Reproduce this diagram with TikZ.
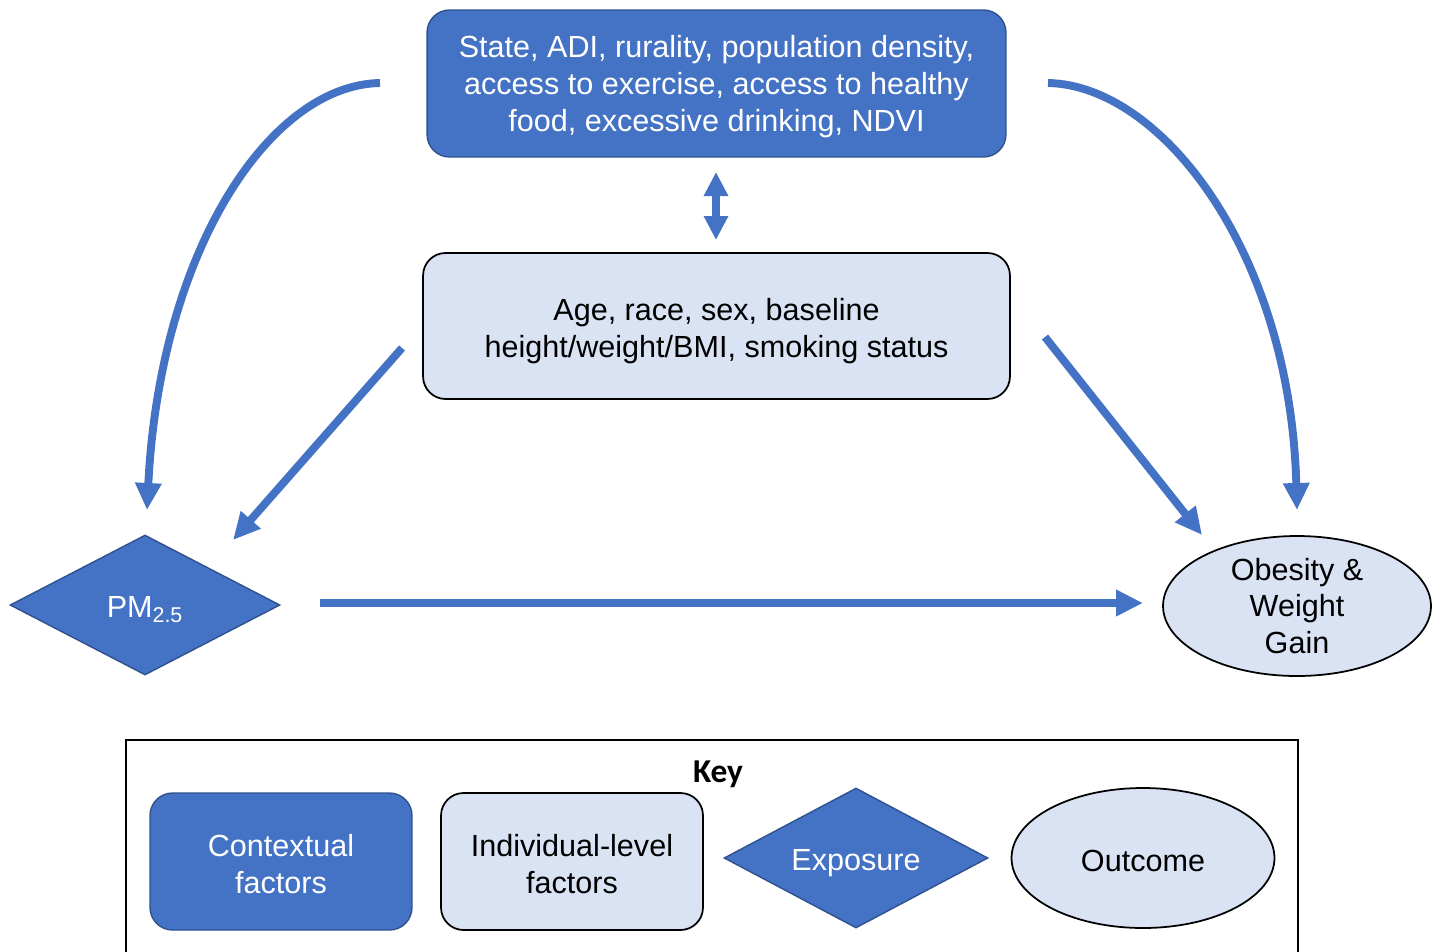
\documentclass[tikz,border=0pt]{standalone}
\usepackage{fontspec}
\setmainfont{Liberation Sans}
\newfontfamily\keyfont{Carlito}
\usetikzlibrary{arrows.meta,shapes.geometric}
\definecolor{ctxblue}{HTML}{4472C4}
\definecolor{ctxedge}{HTML}{2F528F}
\definecolor{indfill}{HTML}{DAE3F3}

% centred lines of text, set a little below the node centre
\newcommand{\lowtext}[2][0.07cm]{\raisebox{-#1}[\height][\depth]{%
  \setlength{\tabcolsep}{0pt}\renewcommand{\arraystretch}{1}%
  \begin{tabular}{c}#2\end{tabular}}}

\tikzset{
  txt/.style={font=\fontsize{17.4pt}{21pt}\selectfont, align=center, inner sep=0pt},
  ctxbox/.style={txt, draw=ctxedge, line width=0.8pt, fill=ctxblue, text=white, rounded corners=0.45cm},
  indbox/.style={txt, draw=black, line width=1pt, fill=indfill, rounded corners=0.45cm},
  expo/.style={txt, diamond, shape aspect=1.9, draw=ctxedge, line width=0.8pt, fill=ctxblue, text=white},
  outc/.style={txt, ellipse, draw=black, line width=1pt, fill=indfill},
  link/.style={draw=ctxblue, line width=4.5pt, -{Triangle[length=0.54cm,width=0.5cm]}},
  biLink/.style={draw=ctxblue, line width=4.5pt, {Triangle[length=0.48cm,width=0.46cm]}-{Triangle[length=0.48cm,width=0.46cm]}},
}

\begin{document}
\begin{tikzpicture}[x=0.02cm, y=-0.02cm]
  \useasboundingbox (0,0) rectangle (1440,951);

  % main diagram
  \node[ctxbox, minimum width=11.58cm, minimum height=2.94cm] (ctx) at (716.5,83.5)
    {\lowtext{State, ADI, rurality, population density,\\access to exercise, access to healthy\\food, excessive drinking, NDVI}};
  \node[indbox, minimum width=11.74cm, minimum height=2.92cm] (ind) at (716.5,326)
    {\lowtext[0.11cm]{Age, race, sex, baseline\\height/weight/BMI, smoking status}};
  \node[expo, minimum width=5.4cm, minimum height=2.8cm] (pm) at (145,605)
    {\lowtext[0.11cm]{PM\textsubscript{2.5}}};
  \node[outc, minimum width=5.36cm, minimum height=2.8cm] (out) at (1297,606)
    {Obesity \&\\Weight\\Gain};

  % connector end points
  \coordinate (lcS) at (380,83);
  \coordinate (lcE) at (147,510);
  \coordinate (rcS) at (1048,83);
  \coordinate (rcE) at (1297,510);
  \coordinate (ldS) at (402,348);
  \coordinate (ldE) at (233,540);
  \coordinate (rdS) at (1045,337);
  \coordinate (rdE) at (1202,535);
  \coordinate (hS) at (320,603);
  \coordinate (hE) at (1143,603);
  \coordinate (dT) at (716,172);
  \coordinate (dB) at (716,240);

  % connectors
  \draw[biLink] (dT) -- (dB);
  \draw[link] (lcS) .. controls (270,85) and (160,250) .. (lcE);
  \draw[link] (rcS) .. controls (1160,85) and (1290,250) .. (rcE);
  \draw[link] (ldS) -- (ldE);
  \draw[link] (rdS) -- (rdE);
  \draw[link] (hS) -- (hE);

  % key
  \draw[black, line width=1.2pt] (126,740) rectangle (1298,1000);
  \node[font=\keyfont\bfseries\fontsize{19pt}{22pt}\selectfont, inner sep=0pt] (keyT) at (718,774) {Key};
  \node[ctxbox, minimum width=5.24cm, minimum height=2.74cm] (kctx) at (281,861.5)
    {\lowtext[0.13cm]{Contextual\\factors}};
  \node[indbox, minimum width=5.24cm, minimum height=2.74cm] (kind) at (572,861.5)
    {\lowtext[0.13cm]{Individual-level\\factors}};
  \node[expo, minimum width=5.28cm, minimum height=2.8cm] (kexp) at (856,858)
    {\lowtext[0.11cm]{Exposure}};
  \node[outc, minimum width=5.26cm, minimum height=2.8cm] (kout) at (1143,858)
    {\lowtext[0.13cm]{Outcome}};
\end{tikzpicture}
\end{document}
